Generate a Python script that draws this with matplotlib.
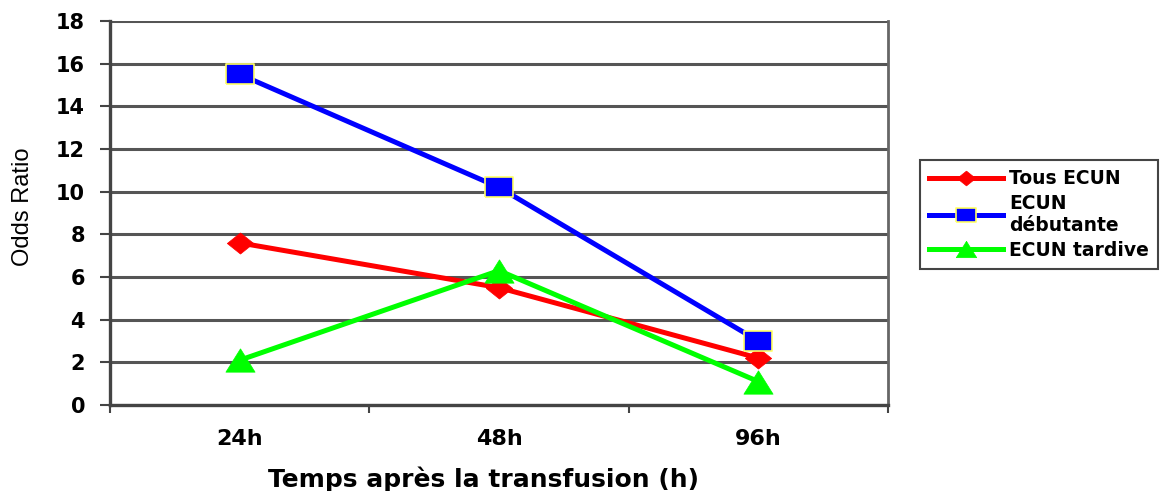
import matplotlib
matplotlib.use("Agg")
import matplotlib.pyplot as plt
import numpy as np

plt.rcParams['font.family'] = ['Liberation Sans', 'DejaVu Sans']

categories = ["24h", "48h", "96h"]
tous_ecun = [7.6, 5.5, 2.2]
ecun_debutante = [15.5, 10.2, 3.0]
ecun_tardive = [2.1, 6.3, 1.1]
series_labels = ["Tous ECUN", "ECUN\ndébutante", "ECUN tardive"]
y_ticks = list(range(0, 19, 2))

# slightly wide marker shapes
diamond = [(0, 0.8), (1, 0), (0, -0.8), (-1, 0), (0, 0.8)]
rect = [(-1, -0.75), (1, -0.75), (1, 0.75), (-1, 0.75), (-1, -0.75)]
tri = [(0, 0.8), (1, -0.8), (-1, -0.8), (0, 0.8)]

bold_font = {"family": ["DejaVu Sans"], "weight": "bold"}

fig = plt.figure(figsize=(11.6, 4.91), dpi=100)
ax = fig.add_axes([110 / 1160, 1 - 405 / 491, (888 - 110) / 1160, (405 - 21) / 491])

x = np.arange(len(categories))

ax.plot(x, tous_ecun, color="#ff0000", lw=3.6, marker=diamond, ms=19,
        mfc="#ff0000", mec="#ff0000", mew=0.5, label=series_labels[0], zorder=3)
ax.plot(x, ecun_debutante, color="#0000ff", lw=3.6, marker=rect, ms=20,
        mfc="#0000ff", mec="#ffff66", mew=1.2, label=series_labels[1], zorder=4)
ax.plot(x, ecun_tardive, color="#00ff00", lw=3.6, marker=tri, ms=21,
        mfc="#00ff00", mec="#00ff00", mew=0.5, label=series_labels[2], zorder=5)

ax.set_xlim(-0.5, len(categories) - 0.5)
ax.set_ylim(0, 18)
ax.set_yticks(y_ticks)
ax.set_yticklabels([str(v) for v in y_ticks], fontsize=15, **bold_font)
ax.yaxis.grid(True, color="#555555", lw=2.2)
ax.set_axisbelow(True)

ax.set_xticks(x)
ax.set_xticklabels(categories, fontsize=16, **bold_font)
ax.tick_params(axis="x", length=0, pad=17)
ax.set_xticks(np.arange(-0.5, len(categories), 1.0), minor=True)
ax.tick_params(axis="x", which="minor", length=6, width=1.5, color="#444444")
ax.tick_params(axis="y", length=7, width=1.5, color="#444444", pad=11)

for side in ["left", "bottom"]:
    ax.spines[side].set_color("#444444")
    ax.spines[side].set_linewidth(2.4)
ax.spines["top"].set_visible(False)
ax.spines["right"].set_color("#666666")
ax.spines["right"].set_linewidth(2.0)

fig.text(483 / 1160, 1 - 479 / 491, "Temps après la transfusion (h)",
         ha="center", va="center", fontsize=18, **bold_font)
fig.text(23 / 1160, 1 - 207 / 491, "Odds Ratio", rotation=90,
         ha="center", va="center", fontsize=17)

leg = fig.legend(loc="upper left", bbox_to_anchor=(920 / 1160, 1 - 160 / 491),
                 prop={"family": ["DejaVu Sans"], "weight": "bold", "size": 13.5},
                 handlelength=3.9, handletextpad=0.35, labelspacing=0.3,
                 borderpad=0.5, fancybox=False, framealpha=1, borderaxespad=0,
                 markerscale=0.7)
leg.get_frame().set_edgecolor("#444444")
leg.get_frame().set_linewidth(1.5)

fig.savefig("out.png", dpi=100)
